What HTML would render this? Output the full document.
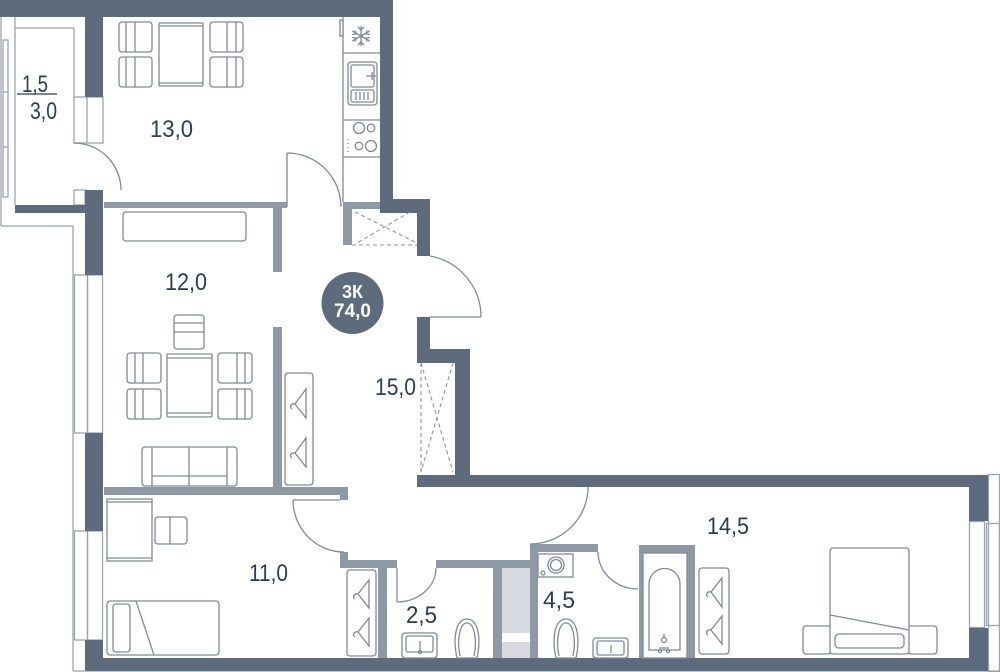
<!DOCTYPE html>
<html><head><meta charset="utf-8"><style>
html,body{margin:0;padding:0;background:#fff;}
svg{display:block;}
.t{font-family:"Liberation Sans",Arial,sans-serif;fill:#293d55;font-size:24px;}
.f{fill:#fff;stroke:#7f8a99;stroke-width:1.3;}
.l{fill:none;stroke:#7f8a99;stroke-width:1.3;}
.o{fill:none;stroke:#9aa4b0;stroke-width:1.3;}
.d{fill:none;stroke:#8a95a4;stroke-width:1.1;stroke-dasharray:4 3;}
.w{fill:#5e6b7c;}
.p{fill:#8e99a6;}
</style></head><body>
<svg width="1000" height="672" viewBox="0 0 1000 672" xmlns="http://www.w3.org/2000/svg">
<!-- loggia outlines -->
<line class="o" x1="1" y1="17" x2="1" y2="226"/>
<line class="o" x1="1" y1="226" x2="73" y2="226"/>
<line class="o" x1="73" y1="226" x2="73" y2="671"/>
<line class="o" x1="73" y1="671" x2="1000" y2="671"/>
<line class="o" x1="15" y1="17" x2="15" y2="205"/>
<line class="o" x1="15" y1="28" x2="74" y2="28"/>
<line class="o" x1="74" y1="28" x2="74" y2="97"/>
<rect class="o" x="3" y="40" width="5" height="157"/>
<line class="o" x1="3" y1="92" x2="8" y2="92"/>
<line class="o" x1="3" y1="147" x2="8" y2="147"/>
<rect class="o" x="74" y="97" width="29" height="46"/>
<line class="o" x1="87" y1="97" x2="87" y2="143"/>
<rect class="o" x="74" y="190" width="11" height="15"/>

<!-- left windows -->
<rect class="o" x="74.5" y="275" width="13" height="158"/>
<rect class="o" x="87.5" y="275" width="15" height="158"/>
<rect class="o" x="74.5" y="531" width="13" height="109"/>
<rect class="o" x="87.5" y="531" width="15" height="109"/>
<!-- right window -->
<rect class="o" x="988.5" y="474.5" width="11" height="197"/>
<rect class="o" x="969.5" y="521.5" width="15" height="106"/>
<rect class="o" x="986.5" y="523.5" width="13" height="102"/>

<!-- light partitions -->
<rect class="p" x="104" y="202" width="183" height="6"/>
<rect class="p" x="343" y="202" width="37" height="7"/>
<rect class="p" x="343" y="202" width="9" height="43"/>
<rect class="p" x="273" y="208" width="9" height="64"/>
<rect class="p" x="273" y="327" width="9" height="160"/>
<rect class="p" x="104" y="487" width="244" height="8"/>
<rect class="p" x="340" y="487" width="8" height="13"/>
<rect class="p" x="340" y="552" width="8" height="16"/>
<rect class="p" x="340" y="560" width="57" height="8"/>
<rect class="p" x="378" y="560" width="9" height="98"/>
<rect class="p" x="436" y="560" width="102" height="8"/>
<rect class="p" x="493" y="560" width="9" height="98"/>
<rect class="p" x="530" y="544" width="8" height="114"/>
<rect class="p" x="530" y="544" width="68" height="8"/>
<rect x="502" y="568" width="28" height="65" fill="#d6d9df"/>
<rect x="502" y="642" width="28" height="16" fill="#d6d9df"/>
<rect class="p" x="639" y="545" width="56" height="8"/>
<rect class="p" x="639" y="545" width="4" height="113"/>
<rect class="p" x="687" y="545" width="8" height="113"/>

<!-- dark walls -->
<rect class="w" x="0" y="0" width="393" height="17"/>
<rect class="w" x="380" y="0" width="13" height="213"/>
<rect class="w" x="380" y="199" width="50" height="14"/>
<rect class="w" x="417" y="199" width="13" height="57"/>
<rect class="w" x="417" y="317" width="13" height="46"/>
<rect class="w" x="417" y="349" width="53" height="14"/>
<rect class="w" x="455" y="349" width="15" height="138"/>
<rect class="w" x="417" y="475" width="571" height="12"/>
<rect class="w" x="969" y="475" width="19" height="46"/>
<rect class="w" x="969" y="628" width="19" height="43"/>
<rect class="w" x="85" y="658" width="903" height="13"/>
<rect class="w" x="85" y="17" width="18" height="80"/>
<rect class="w" x="85" y="190" width="18" height="85"/>
<rect class="w" x="85" y="433" width="18" height="98"/>
<rect class="w" x="85" y="640" width="18" height="18"/>
<rect class="w" x="15" y="205" width="70" height="8"/>

<!-- doors -->
<path class="l" d="M74,143 A47,47 0 0 1 121,190"/>
<path class="l" d="M287,153 A54,54 0 0 1 341,207"/>
<line class="l" x1="287" y1="153" x2="287" y2="207"/>
<path class="l" d="M430,256 A62,62 0 0 1 481,317"/>
<line class="l" x1="430" y1="317" x2="481" y2="317"/>
<path class="l" d="M293,500 A51,52 0 0 0 344,552"/>
<line class="l" x1="293" y1="500" x2="340" y2="500"/>
<path class="l" d="M436,568 A39,34 0 0 1 397,602"/>
<line class="l" x1="397" y1="568" x2="397" y2="602"/>
<path class="l" d="M588,487 A58,57 0 0 1 530,544"/>
<path class="l" d="M598,552 A40,37 0 0 0 638,589"/>

<!-- dashed closets -->
<line class="d" x1="352" y1="245" x2="417" y2="245"/>
<line class="d" x1="355" y1="212" x2="417" y2="243"/>
<line class="d" x1="410" y1="212" x2="357" y2="243"/>
<line class="d" x1="421" y1="363" x2="421" y2="474"/>
<line class="d" x1="421" y1="363" x2="453" y2="472"/>
<line class="d" x1="453" y1="363" x2="421" y2="472"/>

<!-- kitchen counter -->
<line class="l" x1="343" y1="17" x2="343" y2="202"/>
<rect class="f" x="340" y="20" width="3" height="16"/>
<line class="l" x1="343" y1="53" x2="380" y2="53"/>
<line class="l" x1="343" y1="120" x2="380" y2="120"/>
<line class="l" x1="343" y1="157" x2="380" y2="157"/>
<g class="l" stroke-width="1.4">
<line x1="361" y1="26" x2="361" y2="46"/><line x1="352.3" y1="31" x2="369.7" y2="41"/><line x1="352.3" y1="41" x2="369.7" y2="31"/>
<path d="M358,27l3,3l3,-3M358,45l3,-3l3,3M352,34.5l4,-0.5l-1,-3.5M370,37.5l-4,0.5l1,3.5M352,37.5l4,0.5l-1,3.5M370,34.5l-4,-0.5l1,-3.5"/>
</g>
<rect class="f" x="348" y="62" width="29" height="43" rx="3"/>
<rect class="f" x="351" y="65" width="23" height="22" rx="2"/>
<rect class="f" x="351" y="90" width="23" height="12" rx="2"/>
<path class="l" d="M356,92v8M360,92v8M364,92v8M368,92v8M366,76h10M372,72v8"/>
<circle class="l" cx="359" cy="128" r="5.5" stroke-width="1.8"/>
<circle class="l" cx="371" cy="128" r="3.8"/>
<circle class="l" cx="359" cy="146" r="3.8"/>
<circle class="l" cx="371" cy="146" r="5.5" stroke-width="1.8"/>
<path class="l" d="M348,139v1M348,143v1M348,147v1M348,151v1"/>

<!-- kitchen dining -->
<rect class="f" x="159" y="23" width="44" height="63" rx="1"/>
<line class="l" x1="159" y1="26" x2="203" y2="26"/><line class="l" x1="159" y1="83" x2="203" y2="83"/>
<g>
<rect class="f" x="119" y="22" width="33" height="30" rx="3"/><path class="l" d="M126,22v30M135,22v30"/>
<rect class="f" x="119" y="57" width="33" height="30" rx="3"/><path class="l" d="M126,57v30M135,57v30"/>
<rect class="f" x="210" y="22" width="33" height="30" rx="3"/><path class="l" d="M236,22v30M227,22v30"/>
<rect class="f" x="210" y="57" width="33" height="30" rx="3"/><path class="l" d="M236,57v30M227,57v30"/>
</g>

<!-- living room -->
<rect class="f" x="123" y="212" width="123" height="29" rx="3"/>
<rect class="f" x="174" y="315" width="30" height="34" rx="3"/><path class="l" d="M174,323h30M174,332h30"/>
<rect class="f" x="167" y="354" width="45" height="63" rx="1"/><path class="l" d="M167,358h45M167,413h45"/>
<rect class="f" x="127" y="353" width="34" height="30" rx="3"/><path class="l" d="M135,353v30M143,353v30"/>
<rect class="f" x="127" y="389" width="34" height="30" rx="3"/><path class="l" d="M135,389v30M143,389v30"/>
<rect class="f" x="218" y="353" width="34" height="30" rx="3"/><path class="l" d="M245,353v30M237,353v30"/>
<rect class="f" x="218" y="389" width="34" height="30" rx="3"/><path class="l" d="M245,389v30M237,389v30"/>
<rect class="f" x="142" y="447" width="95" height="39" rx="3"/><path class="l" d="M152,447v39M227,447v39M189,447v39M152,476h75"/>

<!-- hallway wardrobe -->
<rect class="f" x="285" y="373" width="28" height="112" rx="3"/>
<path class="l" d="M306,389L295,404L306,418ZM295,404c-4,-1 -6,3 -3,5"/>
<path class="l" d="M306,438L295,453L306,467ZM295,453c-4,-1 -6,3 -3,5"/>

<!-- bedroom 11.0 -->
<rect class="f" x="107" y="499" width="45" height="62"/><path class="l" d="M107,502h45M107,558h45"/>
<rect class="f" x="155" y="517" width="32" height="27" rx="3"/><path class="l" d="M170,517v27"/>
<rect class="f" x="107" y="601" width="112" height="54" rx="3"/>
<rect class="f" x="113" y="604" width="17" height="48" rx="3"/>
<line class="l" x1="136" y1="601" x2="154" y2="655"/>
<rect class="f" x="347" y="570" width="29" height="86" rx="3"/>
<path class="l" d="M369,580L358,594L369,608ZM358,594c-4,-1 -6,3 -3,5"/>
<path class="l" d="M369,618L358,632L369,646ZM358,632c-4,-1 -6,3 -3,5"/>

<!-- bathroom 2.5 -->
<rect class="f" x="402" y="633" width="35" height="25" rx="3"/>
<rect class="f" x="406" y="636" width="27" height="16" rx="2"/>
<path class="l" d="M420,641v10"/><circle class="l" cx="420" cy="652" r="1.5"/>
<path class="f" d="M457,658 C453,640 455,619 467,619 C479,619 481,640 477,658 Z"/>
<path class="l" d="M460,656 C457,642 459,623 467,623 C475,623 477,642 474,656"/>

<!-- bathroom 4.5 -->
<rect class="f" x="538" y="554" width="35" height="23"/>
<circle class="l" cx="556" cy="565" r="8"/><circle class="l" cx="556" cy="565" r="5.5"/>
<circle class="l" cx="543" cy="573" r="2"/>
<path class="f" d="M556,658 C552,640 554,619 566,619 C578,619 580,640 576,658 Z"/>
<path class="l" d="M559,656 C556,642 558,623 566,623 C574,623 576,642 573,656"/>
<rect class="f" x="593" y="638" width="35" height="20" rx="3"/>
<rect class="f" x="597" y="641" width="27" height="14" rx="2"/>
<path class="l" d="M611,645v8"/>
<rect class="l" x="643" y="553" width="44" height="105"/>
<path class="f" d="M649,650 L649,584 A15.5,15.5 0 0 1 680,584 L680,650 Z"/>
<circle class="l" cx="664" cy="640" r="2.5"/><path class="l" d="M664,634v3M659,648h10"/>
<circle class="l" cx="660" cy="651" r="1.5"/><circle class="l" cx="668" cy="651" r="1.5"/>

<!-- bedroom 14.5 -->
<rect class="f" x="699" y="568" width="30" height="86" rx="3"/>
<path class="l" d="M722,578L711,592L722,607ZM711,592c-4,-1 -6,3 -3,5"/>
<path class="l" d="M722,616L711,630L722,644ZM711,630c-4,-1 -6,3 -3,5"/>
<rect class="f" x="803" y="626" width="28" height="28" rx="3"/>
<rect class="f" x="908" y="626" width="29" height="28" rx="3"/>
<rect class="f" x="830" y="548" width="79" height="106" rx="3"/>
<line class="l" x1="830" y1="615" x2="909" y2="630"/>
<rect class="f" x="835" y="634" width="69" height="14" rx="4"/>

<!-- labels -->
<text class="t" x="22" y="92" textLength="26" lengthAdjust="spacingAndGlyphs">1,5</text>
<line x1="17" y1="94" x2="57" y2="94" stroke="#293d55" stroke-width="1.3"/>
<text class="t" x="30" y="119" textLength="27" lengthAdjust="spacingAndGlyphs">3,0</text>
<text class="t" x="150" y="137" textLength="43" lengthAdjust="spacingAndGlyphs">13,0</text>
<text class="t" x="165" y="290" textLength="42" lengthAdjust="spacingAndGlyphs">12,0</text>
<text class="t" x="375" y="395" textLength="41" lengthAdjust="spacingAndGlyphs">15,0</text>
<text class="t" x="249" y="581" textLength="39" lengthAdjust="spacingAndGlyphs">11,0</text>
<text class="t" x="406" y="623" textLength="31" lengthAdjust="spacingAndGlyphs">2,5</text>
<text class="t" x="543" y="608" textLength="32" lengthAdjust="spacingAndGlyphs">4,5</text>
<text class="t" x="707" y="534" textLength="42" lengthAdjust="spacingAndGlyphs">14,5</text>

<circle cx="352.5" cy="303" r="31" fill="#5e6b7c"/>
<text x="352.5" y="298" text-anchor="middle" font-family="Liberation Sans, Arial, sans-serif" font-weight="bold" font-size="18" fill="#fff">3К</text>
<text x="352.5" y="317" text-anchor="middle" font-family="Liberation Sans, Arial, sans-serif" font-weight="bold" font-size="19" fill="#fff">74,0</text>
</svg>
</body></html>
